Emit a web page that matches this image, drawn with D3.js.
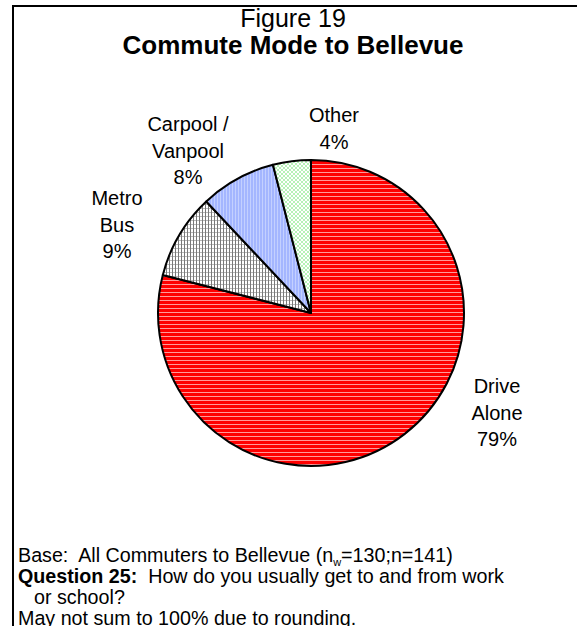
<!DOCTYPE html>
<html>
<head>
<meta charset="utf-8">
<script src="https://cdn.jsdelivr.net/npm/d3@7/dist/d3.min.js"></script>
<style>
  html, body { margin: 0; padding: 0; background: #fff; }
  svg { display: block; font-family: "Liberation Sans", Arial, sans-serif; }
  .note { white-space: pre; }
</style>
</head>
<body>
<svg id="chart" width="577" height="626"></svg>
<script>
// Commute mode shares (percent), clockwise from 12 o'clock
const modes = ["Drive Alone", "Metro Bus", "Carpool / Vanpool", "Other"];
const shares = [79, 9, 8, 4];
const labelLines = [["Drive", "Alone"], ["Metro", "Bus"], ["Carpool /", "Vanpool"], ["Other"]];
const fills = ["url(#pat-red)", "url(#pat-grid)", "url(#pat-blue)", "url(#pat-green)"];

const titleLines = ["Figure 19", "Commute Mode to Bellevue"];
const footnotes = [
  { bold: "", text: "Base:  All Commuters to Bellevue (n", sub: "w", tail: "=130;n=141)", indent: 0 },
  { bold: "Question 25:", text: "  How do you usually get to and from work", indent: 0 },
  { bold: "", text: "or school?", indent: 16 },
  { bold: "", text: "May not sum to 100% due to rounding.", indent: 0 }
];

const svg = d3.select("#chart");
const defs = svg.append("defs");

// Hatch patterns for the slices
const red = defs.append("pattern").attr("id", "pat-red").attr("patternUnits", "userSpaceOnUse")
  .attr("width", 4).attr("height", 4);
red.append("rect").attr("width", 4).attr("height", 4).attr("fill", "#ff0000");
red.append("rect").attr("y", 3).attr("width", 4).attr("height", 1).attr("fill", "#ff9a9a");

const grid = defs.append("pattern").attr("id", "pat-grid").attr("patternUnits", "userSpaceOnUse")
  .attr("width", 3).attr("height", 4);
grid.append("rect").attr("width", 3).attr("height", 4).attr("fill", "#ffffff");
grid.append("rect").attr("y", 3).attr("width", 3).attr("height", 1).attr("fill", "#b8b8b8");
grid.append("rect").attr("x", 2).attr("width", 1).attr("height", 4).attr("fill", "#7a7a7a");

const blue = defs.append("pattern").attr("id", "pat-blue").attr("patternUnits", "userSpaceOnUse")
  .attr("width", 3).attr("height", 3);
blue.append("rect").attr("width", 3).attr("height", 3).attr("fill", "#a4b6ff");
blue.append("rect").attr("x", 2).attr("width", 1).attr("height", 3).attr("fill", "#c4d0ff");

const green = defs.append("pattern").attr("id", "pat-green").attr("patternUnits", "userSpaceOnUse")
  .attr("width", 4).attr("height", 4);
green.append("rect").attr("width", 4).attr("height", 4).attr("fill", "#b6f2b6");
green.append("rect").attr("x", 0).attr("y", 0).attr("width", 2).attr("height", 2).attr("fill", "#ffffff");
green.append("rect").attr("x", 2).attr("y", 2).attr("width", 2).attr("height", 2).attr("fill", "#ffffff");

// Frame (open on the right and bottom)
svg.append("path")
  .attr("d", "M13,630 L13,6 L580,6")
  .attr("fill", "none").attr("stroke", "#000").attr("stroke-width", 2);

// Title
svg.append("text").attr("x", 293).attr("y", 27).attr("text-anchor", "middle")
  .attr("font-size", 25).text(titleLines[0]);
svg.append("text").attr("x", 293).attr("y", 54).attr("text-anchor", "middle")
  .attr("font-size", 26).attr("font-weight", "bold").text(titleLines[1]);

// Pie
const cx = 311, cy = 313, r = 153;
const pie = d3.pie().sort(null).value(d => d)(shares);
const arc = d3.arc().innerRadius(0).outerRadius(r);
const g = svg.append("g").attr("transform", `translate(${cx},${cy})`);
g.selectAll("path.slice").data(pie).join("path")
  .attr("class", "slice")
  .attr("d", arc)
  .attr("fill", (d, i) => fills[i])
  .attr("stroke", "#000").attr("stroke-width", 2).attr("stroke-linejoin", "round");

// Slice labels: name lines followed by the percentage, placed outside the rim
const labelPos = [
  { x: 497, y: 393 },  // Drive Alone (first baseline)
  { x: 117, y: 205 },  // Metro Bus
  { x: 188, y: 131 },  // Carpool / Vanpool
  { x: 334, y: 122 }   // Other
];
const lh = 26.5;
labelLines.forEach((lines, i) => {
  const t = svg.append("text").attr("text-anchor", "middle").attr("font-size", 20);
  const all = lines.concat([shares[i] + "%"]);
  all.forEach((s, k) => {
    t.append("tspan").attr("x", labelPos[i].x).attr("y", labelPos[i].y + k * lh).text(s);
  });
});

// Footnotes
const fy = [562, 583, 604, 625];
footnotes.forEach((f, i) => {
  const t = svg.append("text").attr("class", "note").attr("x", 18 + f.indent).attr("y", fy[i]).attr("font-size", 19.7);
  if (f.bold) t.append("tspan").attr("font-weight", "bold").text(f.bold);
  t.append("tspan").text(f.text);
  if (f.sub) {
    t.append("tspan").attr("font-size", 11).attr("dy", 4).text(f.sub);
    t.append("tspan").attr("dy", -4).text(f.tail);
  }
});
</script>
</body>
</html>
